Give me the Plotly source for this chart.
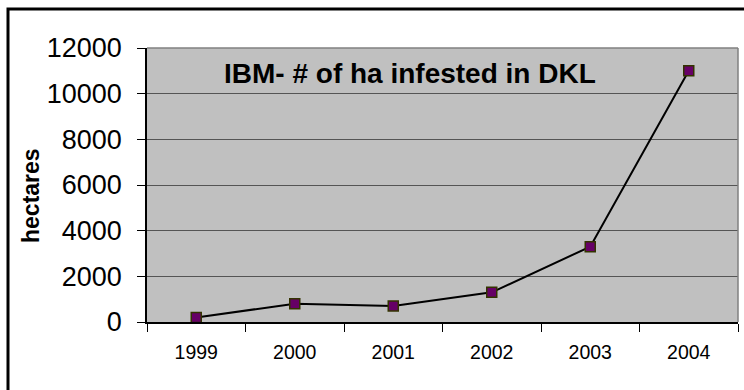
import plotly.graph_objects as go

# Data
years = ["1999", "2000", "2001", "2002", "2003", "2004"]
hectares = [200, 800, 700, 1300, 3300, 11000]
y_ticks = [0, 2000, 4000, 6000, 8000, 10000, 12000]
y_tick_text = [str(v) for v in y_ticks]

FONT = "Arial, Liberation Sans, sans-serif"

# Plot area in pixels (for placing the frame and labels in paper coords)
W, H = 744, 390
L, R, T, B = 147, 6, 48, 68
pw, ph = W - L - R, H - T - B


def px_x(x):
    return (x - L) / pw


def px_y(y):
    return (H - B - y) / ph


fig = go.Figure()
fig.add_trace(go.Scatter(
    x=years, y=hectares, mode="lines+markers",
    line=dict(color="black", width=2),
    marker=dict(symbol="square", size=10, color="#660066",
                line=dict(color="#333300", width=1.5)),
    showlegend=False,
))

# plot area top/right border in grey
fig.add_shape(type="line", xref="paper", yref="paper", x0=0, x1=1, y0=1, y1=1,
              line=dict(color="#808080", width=1.5))
fig.add_shape(type="line", xref="paper", yref="paper", x0=1, x1=1, y0=0, y1=1,
              line=dict(color="#808080", width=1.5))

# outer chart frame
fig.add_shape(type="rect", xref="paper", yref="paper",
              x0=px_x(8), x1=px_x(770), y0=px_y(9), y1=px_y(420),
              line=dict(color="black", width=3), layer="above")

fig.add_annotation(text="<b>IBM- # of ha infested in DKL</b>",
                   xref="paper", yref="paper", x=px_x(410), y=px_y(73),
                   xanchor="center", yanchor="middle",
                   showarrow=False, font=dict(family=FONT, size=28, color="black"))

# y-axis title
fig.add_annotation(text="<b>hectares</b>", textangle=-90,
                   xref="paper", yref="paper", x=px_x(31), y=px_y(196),
                   xanchor="center", yanchor="middle",
                   showarrow=False, font=dict(family=FONT, size=23, color="black"))

fig.update_layout(
    width=W, height=H,
    margin=dict(l=L, r=R, t=T, b=B),
    paper_bgcolor="white", plot_bgcolor="#C0C0C0",
    font=dict(family=FONT, color="black"),
)
fig.update_xaxes(
    type="category", tickson="boundaries", showgrid=False,
    showline=True, linecolor="black", linewidth=1.5,
    ticks="outside", ticklen=8, tickcolor="black",
    tickfont=dict(size=19.5), ticklabelstandoff=12,
    range=[-0.5, 5.5],
)
fig.update_yaxes(
    range=[0, 12000], tickvals=y_ticks, ticktext=y_tick_text,
    showgrid=True, gridcolor="#555555", gridwidth=1,
    showline=True, linecolor="black", linewidth=1.5,
    ticks="outside", ticklen=8, tickcolor="black",
    tickfont=dict(size=27), ticklabelstandoff=10,
    zeroline=False,
)

fig.write_html("out.html")
